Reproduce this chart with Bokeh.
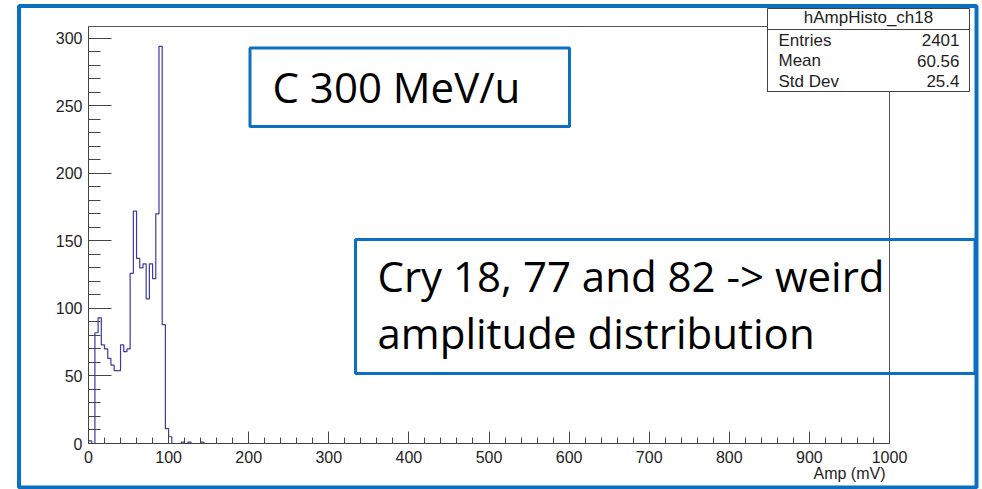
from bokeh.plotting import figure
from bokeh.models import Range1d, SingleIntervalTicker, Label, BoxAnnotation
from bokeh.embed import file_html
from bokeh.resources import INLINE

# Amplitude histogram of channel 18, 4 mV bins starting at 0 mV
bin_edges = [0, 4, 8, 12, 16, 20, 24, 28, 32, 36, 40, 44, 48, 52, 56, 60, 64, 68,
             72, 76, 80, 84, 88, 92, 96, 100, 104, 108, 112, 116, 120, 124, 128,
             132, 136, 140, 144, 148]
counts = [2, 0, 82, 93, 73, 70, 63, 58, 54, 54, 73, 68, 70, 126, 172, 137, 130,
          133, 107, 133, 122, 170, 294, 88, 11, 5, 0, 0, 0, 1, 0, 1, 0, 0, 0, 1, 0]

hist_name = "hAmpHisto_ch18"
stat_names = ["Entries", "Mean", "Std Dev"]
stat_values = ["2401", "60.56", "25.4"]
x_title = "Amp (mV)"
beam_note = "C 300 MeV/u"
crystal_note = ["Cry 18, 77 and 82 -> weird", "amplitude distribution"]

W, H = 982, 489
FL, FR, FT, FB = 88, 889, 26, 443          # plot frame edges on the canvas

# ---- histogram with its axes -------------------------------------------
p = figure(width=W, height=H, output_backend="svg", toolbar_location=None,
           x_range=Range1d(0, 1000), y_range=Range1d(0, 1.05 * max(counts)),
           min_border_left=FL, min_border_right=W - FR,
           min_border_top=FT, min_border_bottom=H - FB)
p.background_fill_color = "white"
p.border_fill_color = "white"
p.outline_line_color = "#555555"
p.outline_line_width = 1
p.grid.visible = False

AX = "#444444"
TXT = "#1e1e1e"
for ax, major, minor in ((p.xaxis[0], 12, 6), (p.yaxis[0], 23, 12)):
    ax.axis_line_color = AX
    ax.major_tick_line_color = AX
    ax.minor_tick_line_color = AX
    ax.major_tick_in = major
    ax.major_tick_out = 0
    ax.minor_tick_in = minor
    ax.minor_tick_out = 0
    ax.major_label_text_font = "Liberation Sans"
    ax.major_label_text_font_size = "16px"
    ax.major_label_text_color = TXT

p.xaxis.ticker = SingleIntervalTicker(interval=100, num_minor_ticks=5)
p.yaxis.ticker = SingleIntervalTicker(interval=50, num_minor_ticks=5)
p.xaxis.major_label_standoff = 7
p.yaxis.major_label_standoff = 6

p.step(x=bin_edges, y=counts + [counts[-1]], mode="after",
       line_color="#3b3ba2", line_width=1.2)

# ---- transparent overlay for the stats box, notes and border -----------
ov = figure(width=W, height=H, output_backend="svg", toolbar_location=None,
            x_axis_type=None, y_axis_type=None,
            x_range=Range1d(0, W), y_range=Range1d(H, 0),
            min_border=0, margin=(-H, 0, 0, 0))
ov.background_fill_alpha = 0.0
ov.border_fill_alpha = 0.0
ov.outline_line_color = None
ov.grid.visible = False


def canvas_label(x, y, text, align="left", baseline="alphabetic",
                 font="Liberation Sans", size="16px", color=TXT):
    ov.add_layout(Label(x=x, y=y, x_units="canvas", y_units="canvas", text=text,
                        text_align=align, text_baseline=baseline, text_font=font,
                        text_font_size=size, text_color=color))


def canvas_box(left, right, top, bottom, color, width, fill=None):
    ov.add_layout(BoxAnnotation(left=left, right=right, top=top, bottom=bottom,
                                left_units="canvas", right_units="canvas",
                                top_units="canvas", bottom_units="canvas",
                                fill_color=fill or "white",
                                fill_alpha=1.0 if fill else 0.0,
                                line_color=color, line_width=width, line_alpha=1.0))


# x axis title, right aligned at the end of the axis
canvas_label(885, 473, x_title, align="right")

# statistics box
SB_L, SB_R, SB_T, SB_B, SB_SEP = 767, 969, 8, 91, 29
canvas_box(SB_L, SB_R, SB_T, SB_B, "#444444", 1, fill="white")
canvas_box(SB_L, SB_R, SB_SEP, SB_B, "#444444", 1)
canvas_label((SB_L + SB_R) / 2, 16.5, hist_name, align="center", baseline="middle",
             size="17px")
for i, (name, val) in enumerate(zip(stat_names, stat_values)):
    yy = 39.5 + 20.5 * i
    canvas_label(778, yy, name, baseline="middle", size="17px")
    canvas_label(959, yy, val, align="right", baseline="middle", size="17px")

BLUE = "#0b6fc2"
NOTE_FONT = "Open Sans"
NOTE_SIZE = "42px"

# beam note
canvas_box(249.5, 569, 47.5, 126, BLUE, 3)
canvas_label(272, 86, beam_note, font=NOTE_FONT, size=NOTE_SIZE, color="black")

# crystal note
canvas_box(355, 974.5, 239, 373, BLUE, 3)
for line, base in zip(crystal_note, (275, 331.5)):
    canvas_label(377, base, line, font=NOTE_FONT, size=NOTE_SIZE, color="black")

# outer frame
canvas_box(18.5, 976, 5.5, 487, BLUE, 4)

open("out.html", "w").write(file_html([p, ov], INLINE))
